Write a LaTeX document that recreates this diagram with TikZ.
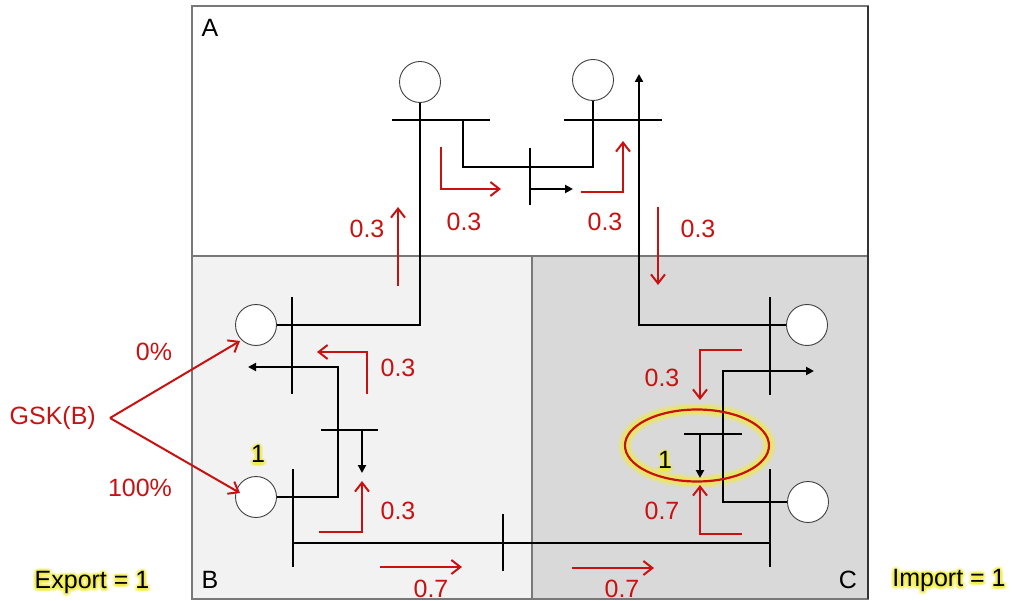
\documentclass[tikz,border=0pt]{standalone}
\usepackage{fontspec}
\setmainfont{Liberation Sans}
\usetikzlibrary{arrows.meta,calc}
\definecolor{myred}{RGB}{200,18,18}
\definecolor{lgray}{RGB}{242,242,242}
\definecolor{dgray}{RGB}{217,217,217}
\definecolor{bgray}{RGB}{120,120,120}
\definecolor{glowy}{RGB}{240,235,60}
\newcommand\lblfont{\fontsize{25}{30}\selectfont}
\newcommand\glowlabel[3]{%
  \foreach \ang in {0,22.5,...,337.5}{%
    \node[font=\lblfont, text=glowy, opacity=0.2, inner sep=0pt] at ($(#1)+(0,1)+(\ang:3.2)$) {#3};
    \node[font=\lblfont, text=glowy, opacity=0.2, inner sep=0pt] at ($(#1)+(0,1)+(\ang:1.6)$) {#3};
  }%
  \node[font=\lblfont, text=black, inner sep=0pt] (#2) at (#1) {#3};%
}
\tikzset{
  gen/.style={circle, draw=black!75, line width=0.9pt, fill=white, minimum size=41pt, inner sep=0pt},
  wire/.style={draw=black, line width=2pt},
  buswire/.style={draw=black, line width=2pt},
  blk/.style={draw=black, line width=2pt, -{Triangle[length=8pt,width=8pt]}},
  flow/.style={draw=myred, line width=2pt, -{Straight Barb[length=9pt,width=14pt,line width=2pt]}},
  rlbl/.style={font=\lblfont, text=myred, inner sep=0pt},
  klbl/.style={font=\lblfont, text=black, inner sep=0pt},
  area/.style={draw=bgray, line width=1.2pt}
}
\begin{document}
\begin{tikzpicture}[x=1pt,y=-1pt]
\useasboundingbox (0,0) rectangle (1014,601);
% areas
\fill[white] (192,6) rectangle (868,256);
\fill[lgray] (192,256) rectangle (532,599);
\fill[dgray] (532,256) rectangle (868,599);
\draw[area] (192,6) rectangle (868,256);
\draw[area] (192,256) rectangle (532,599);
\draw[area] (532,256) rectangle (868,599);
\draw[draw=black!80, line width=1.4pt] (868,6) -- (868,599);

% area labels
\node[klbl] (lA) at (210,28) {A};
\node[klbl] (lB) at (210,580) {B};
\node[klbl] (lC) at (848,580) {C};

% ellipse glow (under lines)
\draw[glowy, line width=13pt, opacity=0.35] (697,445.5) ellipse [x radius=72, y radius=36];
\draw[glowy, line width=8pt, opacity=0.55] (697,445.5) ellipse [x radius=72, y radius=36];

% generators
\node[gen] (gA1) at (420,82) {};
\node[gen] (gA2) at (593,80) {};
\node[gen] (gB1) at (256,325) {};
\node[gen] (gB2) at (256,497) {};
\node[gen] (gC1) at (807,325) {};
\node[gen] (gC2) at (808,502) {};

% bus coordinates
\coordinate (bA1l) at (392,120); \coordinate (bA1r) at (490,120);
\coordinate (bA2l) at (564,120); \coordinate (bA2r) at (662,120);
\coordinate (bAmt) at (530,148); \coordinate (bAmb) at (530,205);
\coordinate (bB1t) at (292,297); \coordinate (bB1b) at (292,394);
\coordinate (bB2t) at (293,469); \coordinate (bB2b) at (293,567);
\coordinate (bBml) at (321,430); \coordinate (bBmr) at (378,430);
\coordinate (bXt) at (503,514);  \coordinate (bXb) at (503,571);
\coordinate (bC1t) at (770,297); \coordinate (bC1b) at (770,395);
\coordinate (bC2t) at (770,469); \coordinate (bC2b) at (770,567);
\coordinate (bCml) at (684,434); \coordinate (bCmr) at (742,434);

% buses
\draw[buswire] (bA1l) -- (bA1r);
\draw[buswire] (bA2l) -- (bA2r);
\draw[buswire] (bAmt) -- (bAmb);
\draw[buswire] (bB1t) -- (bB1b);
\draw[buswire] (bB2t) -- (bB2b);
\draw[buswire] (bBml) -- (bBmr);
\draw[buswire] (bXt) -- (bXb);
\draw[buswire] (bC1t) -- (bC1b);
\draw[buswire] (bC2t) -- (bC2b);
\draw[buswire] (bCml) -- (bCmr);

% lines
\draw[wire] (gA1.south) -- (gA1.south |- gB1.east) -- (gB1.east);
\coordinate (a1) at (463,120);
\draw[wire] (a1) -- (463,167) -- (gA2.south |- 0,167) -- (gA2.south);
\coordinate (tipA) at (639,74);
\draw[blk] (gC1.west) -| (tipA);
\coordinate (tA) at (573,189);
\draw[blk] (530,189) -- (tA);
\coordinate (tB) at (248,367);
\draw[blk] (gB2.east) -| (338,367) -- (tB);
\coordinate (tBm) at (362,473);
\draw[blk] (362,430) -- (tBm);
\draw[wire] (293,543) -- (770,543);
\coordinate (tC) at (814,371);
\draw[blk] (gC2.west) -| (723,371) -- (tC);
\coordinate (tCm) at (700,478);
\draw[blk] (700,434) -- (tCm);

% ellipse
\draw[myred, line width=2.2pt] (697,445.5) ellipse [x radius=72, y radius=36];

% red flows
\draw[flow] (441,147) -- (441,189) -- (501,189);
\draw[flow] (581,192) -- (623,192) -- (623,141);
\draw[flow] (398,286) -- (398,207);
\draw[flow] (658,207) -- (658,285);
\draw[flow] (367,394) -- (367,352) -- (317,352);
\draw[flow] (319,532) -- (362,532) -- (362,481);
\draw[flow] (380,567) -- (462,567);
\draw[flow] (742,350) -- (700,350) -- (700,400);
\draw[flow] (742,534) -- (700,534) -- (700,485);
\draw[flow] (572,568) -- (654,568);

% GSK
\node[rlbl, anchor=east] (gsk) at (96,418) {GSK(B)};
\coordinate (gskp) at (110,418);
\draw[flow] (gskp) -- ($(gB1.center)+(-16,16)$);
\draw[flow] (gskp) -- ($(gB2.center)+(-16,-4)$);
\node[rlbl] (p0) at (154,352) {0\%};
\node[rlbl] (p100) at (140,488) {100\%};

% red labels
\node[rlbl] (f1) at (367,229) {0.3};
\node[rlbl] (f2) at (464,222) {0.3};
\node[rlbl] (f3) at (605,222) {0.3};
\node[rlbl] (f4) at (698,229) {0.3};
\node[rlbl] (f5) at (398,368) {0.3};
\node[rlbl] (f6) at (398,511) {0.3};
\node[rlbl] (f7) at (662,378) {0.3};
\node[rlbl] (f8) at (662,511) {0.7};
\node[rlbl] (f9) at (431,589) {0.7};
\node[rlbl] (f10) at (622,589) {0.7};

% glowing labels
\glowlabel{258,454}{one1}{1}
\glowlabel{665,460}{one2}{1}
\glowlabel{92,582}{exp}{Export = 1}
\glowlabel{949,580}{imp}{Import = 1}
\end{tikzpicture}
\end{document}
